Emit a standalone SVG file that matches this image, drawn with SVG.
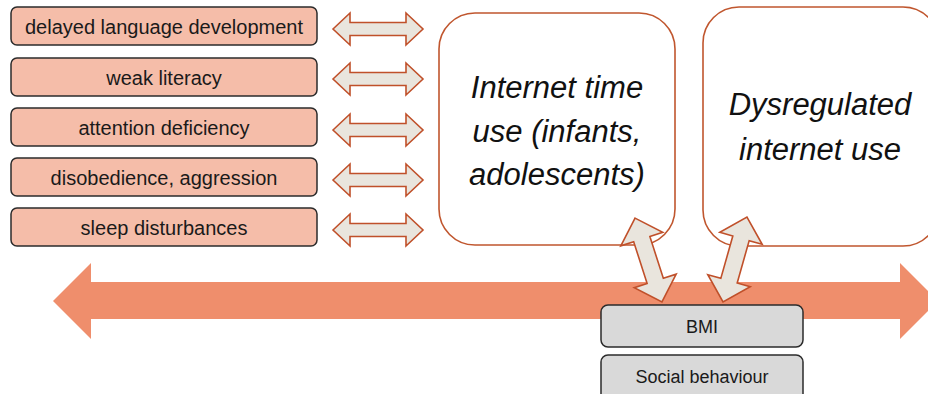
<svg xmlns="http://www.w3.org/2000/svg" width="928" height="394" viewBox="0 0 928 394">
<style>
.sb{fill:#f5bda9;stroke:#2b2b2b;stroke-width:1.5}
.gb{fill:#d9d9d9;stroke:#2b2b2b;stroke-width:1.5}
.bb{fill:#ffffff;stroke:#c0562e;stroke-width:1.6}
.ar{fill:#e9e5dd;stroke:#c0502a;stroke-width:1.6;stroke-linejoin:miter}
.big{fill:#ef8e6c}
.t{font-family:"Liberation Sans",Arial,sans-serif;font-size:20px;fill:#1a1a1a;text-anchor:middle}
.ts{font-family:"Liberation Sans",Arial,sans-serif;font-size:18px;fill:#1a1a1a;text-anchor:middle}
.ti{font-family:"Liberation Sans",Arial,sans-serif;font-size:31px;font-style:italic;fill:#111;text-anchor:middle}
</style>
<defs>
<path id="dh" d="M333,0 L350,-16 L350,-6.5 L406,-6.5 L406,-16 L423,0 L406,16 L406,6.5 L350,6.5 L350,16 Z"/>
<path id="dd" d="M-44,0 L-22,-22 L-22,-8.5 L22,-8.5 L22,-22 L44,0 L22,22 L22,8.5 L-22,8.5 L-22,22 Z"/>
</defs>
<g id="n1"><rect class="sb" x="11" y="7" width="306" height="38" rx="6"/><text class="t" x="164" y="34">delayed language development</text></g>
<g id="n2"><rect class="sb" x="11" y="58" width="306" height="38" rx="6"/><text class="t" x="164" y="85">weak literacy</text></g>
<g id="n3"><rect class="sb" x="11" y="108" width="306" height="38" rx="6"/><text class="t" x="164" y="135">attention deficiency</text></g>
<g id="n4"><rect class="sb" x="11" y="158" width="306" height="38" rx="6"/><text class="t" x="164" y="185">disobedience, aggression</text></g>
<g id="n5"><rect class="sb" x="11" y="208" width="306" height="38" rx="6"/><text class="t" x="164" y="235">sleep disturbances</text></g>
<g id="internet"><rect class="bb" x="439" y="13" width="236" height="232" rx="36"/>
<text class="ti" x="557" y="98">Internet time</text>
<text class="ti" x="557" y="142">use (infants,</text>
<text class="ti" x="557" y="185">adolescents)</text></g>
<g id="dysreg"><rect class="bb" x="703" y="7" width="236" height="239" rx="36"/>
<text class="ti" x="820" y="115">Dysregulated</text>
<text class="ti" x="820" y="160">internet use</text></g>
<g id="axis"><path class="big" d="M53,301 L91,263 L91,282 L900,282 L900,263 L938,301 L900,339 L900,319 L91,319 L91,339 Z"/></g>
<g id="bmi"><rect class="gb" x="601" y="305" width="202" height="42" rx="7"/><text class="ts" x="702" y="333">BMI</text></g>
<g id="social"><rect class="gb" x="601" y="355" width="202" height="46" rx="7"/><text class="ts" x="702" y="383">Social behaviour</text></g>
<g id="connectors">
<use href="#dh" class="ar" transform="translate(0,29)"/>
<use href="#dh" class="ar" transform="translate(0,79)"/>
<use href="#dh" class="ar" transform="translate(0,130)"/>
<use href="#dh" class="ar" transform="translate(0,180)"/>
<use href="#dh" class="ar" transform="translate(0,230)"/>
<use href="#dd" class="ar" transform="translate(648.5,260) rotate(72.2)"/>
<use href="#dd" class="ar" transform="translate(735,259.5) rotate(105.8)"/>
</g>
</svg>
